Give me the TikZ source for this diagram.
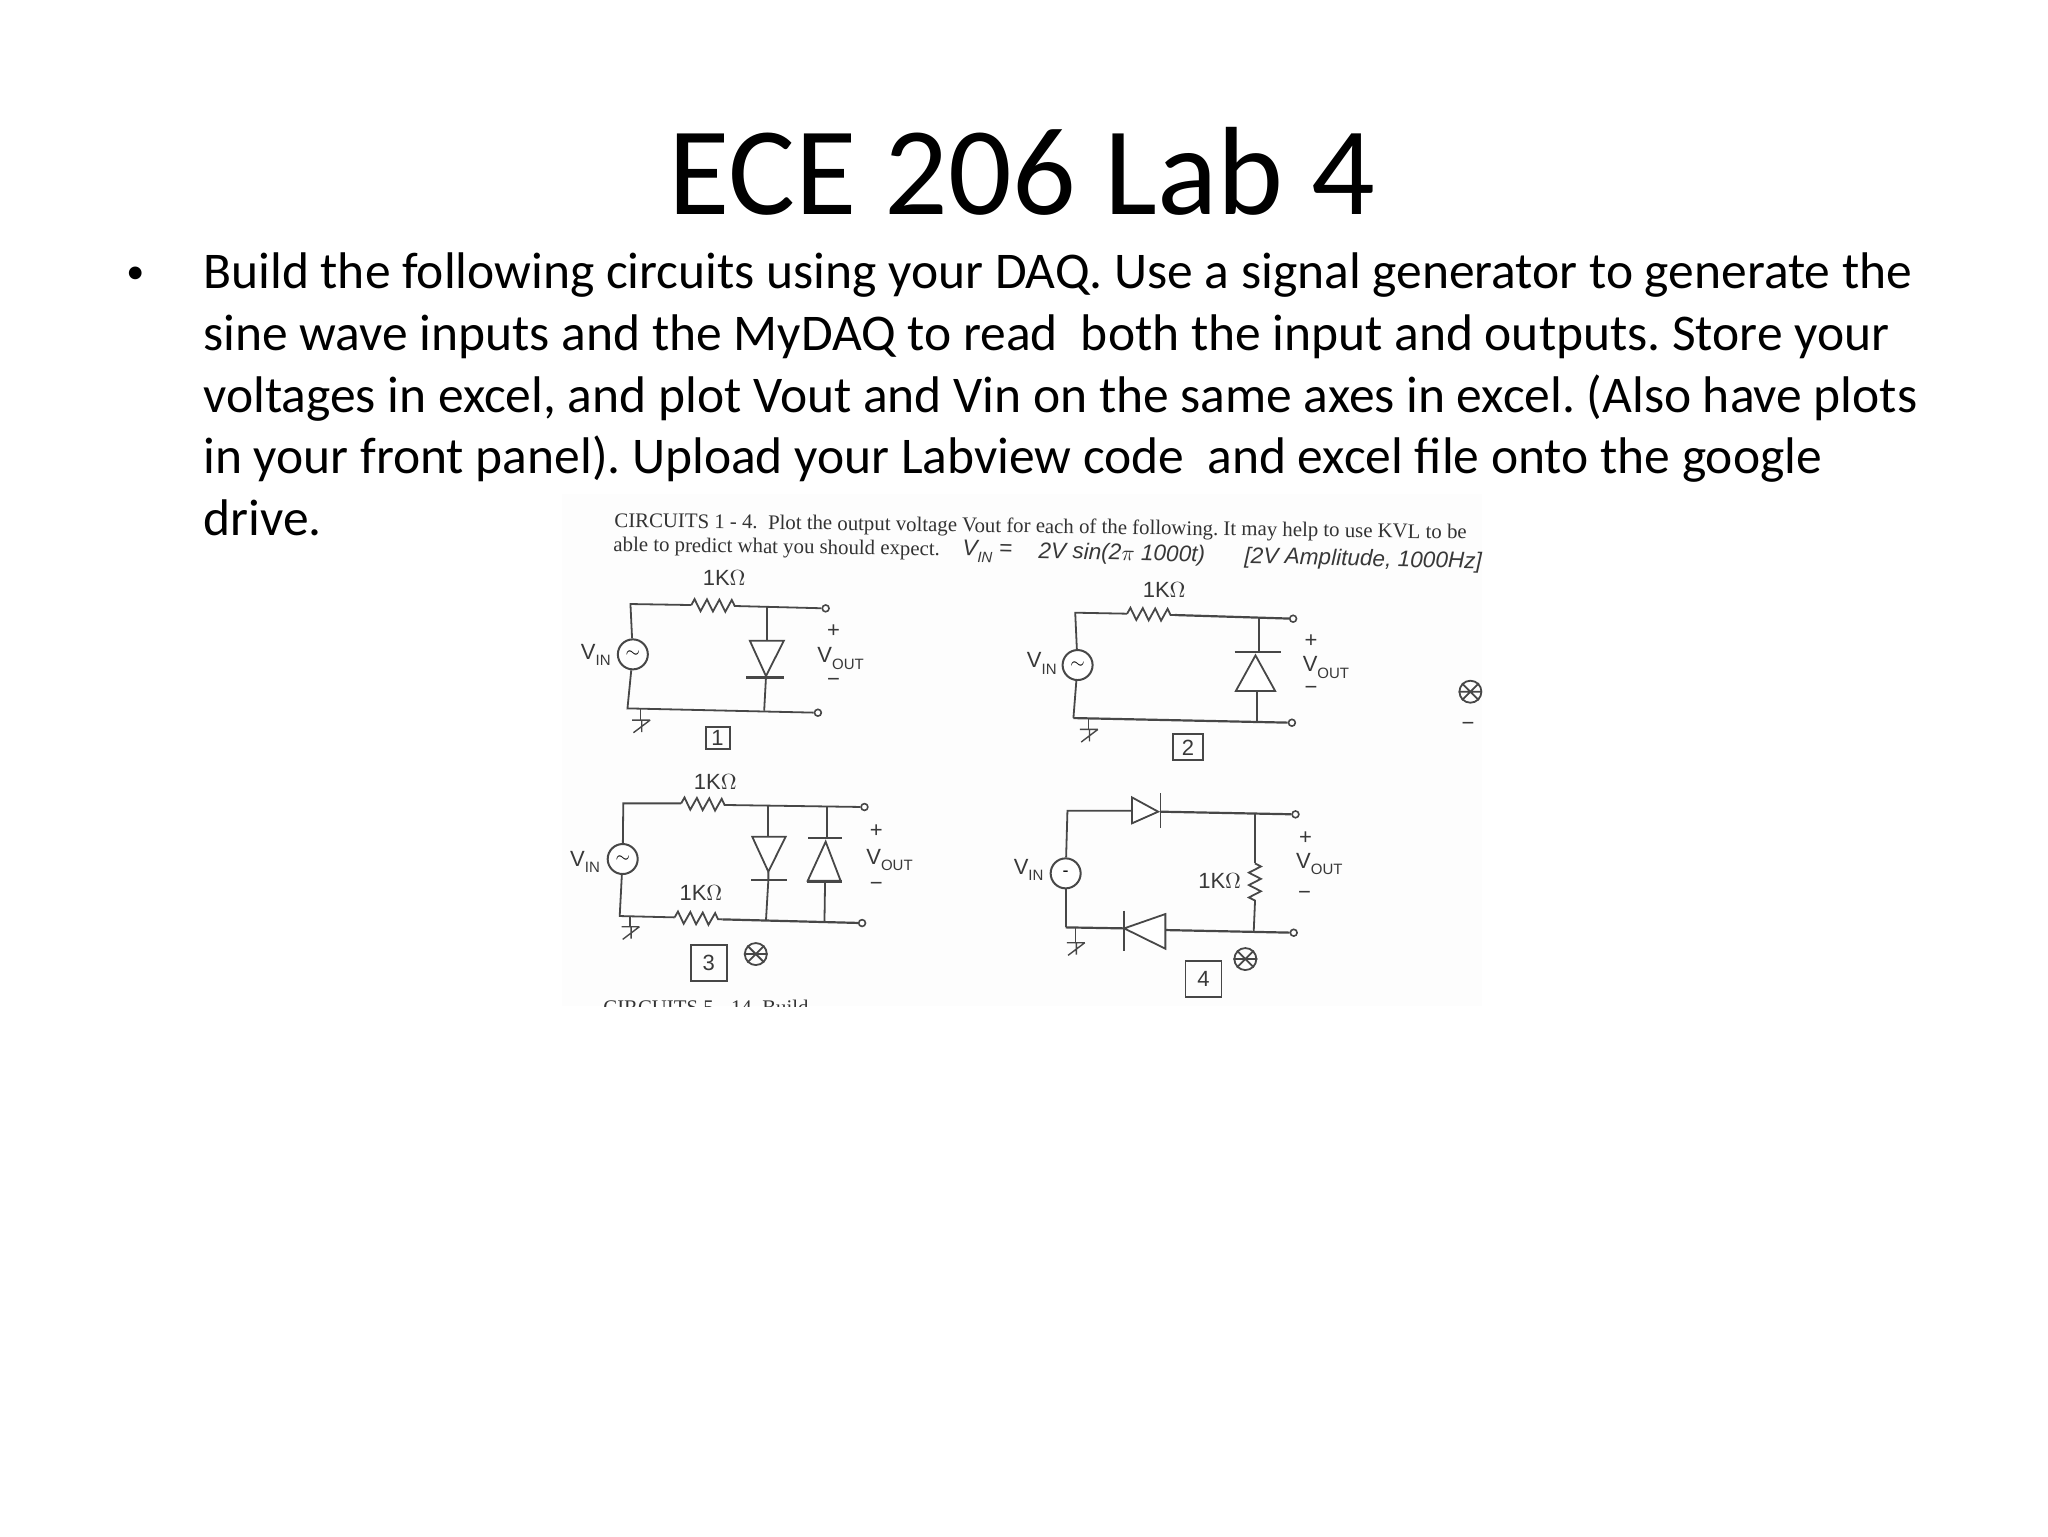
\documentclass[tikz,border=0pt]{standalone}
\usepackage{fontspec}
\setmainfont{Carlito}
\newfontfamily\typedfont{Liberation Serif}
\newfontfamily\handfont{Liberation Sans}
\usetikzlibrary{decorations.pathmorphing}
\newcommand{\vsub}[1]{V\raisebox{-.3em}{\fontsize{7.5}{8}\selectfont #1}}
\tikzset{
  wire/.style={line width=.9pt,draw=black!72},
  res/.style={wire,decorate,decoration={zigzag,amplitude=3pt,segment length=6.2pt}},
  bar/.style={line width=1.2pt,draw=black!72},
  src/.style={circle,draw=black!72,line width=1pt,fill=white,minimum size=15pt,inner sep=0pt,font=\handfont\fontsize{9}{9}\selectfont},
  term/.style={circle,draw=black!72,line width=.8pt,fill=white,minimum size=3.4pt,inner sep=0pt},
  hand/.style={text=black!78,inner sep=0pt,font=\handfont\fontsize{11}{12}\selectfont},
  note/.style={hand,anchor=base west,rotate=-1.4,font=\handfont\itshape\fontsize{11.3}{12}\selectfont},
  numbox/.style={draw=black!72,line width=.9pt,hand,inner sep=0pt},
  typed/.style={text=black!80,anchor=base west,inner sep=0pt,rotate=-.8,font=\typedfont\fontsize{10.4}{12}\selectfont},
  star/.style={circle,draw=black!72,line width=.9pt,minimum size=11pt,inner sep=0pt},
  gnd/.pic={\draw[wire,line width=.7pt] (-14,0) -- (16,0) (16,0) -- (-12,38) (2,3) -- (2,36);}
}
\begin{document}
\frenchspacing
\begin{tikzpicture}[x=.5pt,y=-.5pt]
    \useasboundingbox (0,0) rectangle (2048,1536);
    % Titel und Text
    \node[inner sep=0pt,font=\fontsize{62.8}{70}\selectfont] (title) at (1022,171) {ECE 206 Lab 4};
    \node[anchor=base west,inner sep=0pt,font=\fontsize{18}{22}\selectfont] (bullet) at (126,283) {•};
    \node[anchor=north west,inner sep=0pt,align=left,font=\fontsize{25.75}{30.85}\selectfont] (body) at (203,252.5)
      {Build the following circuits using your DAQ. Use a signal generator to generate the\\
       sine wave inputs and the MyDAQ to read\ \ both the input and outputs. Store your\\
       voltages in excel, and plot Vout and Vin on the same axes in excel. (Also have plots\\
       in your front panel). Upload your Labview code\ \ and excel file onto the google\\
       drive.};

    % Scan
    \fill[black!.7] (562,494) rectangle (1482,1006);
    \begin{scope}
    \clip (562,494) rectangle (1482,1006);
    \node[typed] (line1) at (614,527) {CIRCUITS 1 - 4.\ \ Plot the output voltage Vout for each of the following. It may help to use KVL to be};
    \node[typed] (line2) at (613,551) {able to predict what you should expect.};
    \node[note] (line3a) at (962,555) {\vsub{IN} =};
    \node[note] (line3b) at (1038,558) {2V sin(2$\pi$ 1000t)};
    \node[note] (line3c) at (1244,563) {[2V Amplitude, 1000Hz]};
    \node[typed,rotate=.8] (line4) at (603,1014) {CIRCUITS 5 - 14. Build};

    % Schaltung 1
    \begin{scope}[shift={(560,490)},x=.2985pt,y=-.1667pt]
    \coordinate (a1) at (118,342);
    \coordinate (r1a) at (220,345);
    \coordinate (r1b) at (295,348);
    \coordinate (j1) at (347,350);
    \coordinate (k1) at (342,662);
    \coordinate (b1) at (113,655);
    \coordinate (g1) at (135,657);
    \node[term] (t1) at (445,355) {};
    \node[term] (u1) at (432,668) {};
    \node[src] (s1) at (122,493) {$\sim$};
    \draw[wire] (s1) -- (a1) -- (r1a);
    \draw[res] (r1a) -- (r1b);
    \draw[wire] (r1b) -- (t1);
    \draw[wire] (s1) -- (b1) -- (u1);
    \draw[wire] (j1) -- (347,452);
    \draw[wire,fill=white] (318,452) -- (375,452) -- (345,558) -- cycle;
    \draw[bar] (312,562) -- (376,562);
    \draw[wire] (345,562) -- (k1);
    \draw[wire,line width=.7pt] (g1) -- (135,690);
    \pic at (135,690) {gnd};
    \node[hand] (l1) at (275,265) {1K$\Omega$};
    \node[hand] (v1) at (60,495) {\vsub{IN}};
    \node[hand] (p1) at (458,423) {+};
    \node[hand] (o1) at (470,505) {\vsub{OUT}};
    \node[hand] (m1) at (458,578) {\textminus};
    \node[numbox,minimum width=12pt,minimum height=11pt] (n1) at (264,743) {1};
    \end{scope}

    % Schaltung 2
    \begin{scope}[shift={(560,490)},x=.2985pt,y=-.1667pt]
    \coordinate (a2) at (863,368);
    \coordinate (r2a) at (950,371);
    \coordinate (r2b) at (1030,375);
    \coordinate (j2) at (1171,382);
    \coordinate (k2) at (1167,692);
    \coordinate (b2) at (860,684);
    \coordinate (g2) at (885,686);
    \node[term] (t2) at (1228,386) {};
    \node[term] (u2) at (1226,698) {};
    \node[src] (s2) at (867,525) {$\sim$};
    \draw[wire] (s2) -- (a2) -- (r2a);
    \draw[res] (r2a) -- (r2b);
    \draw[wire,line width=1.1pt] (r2b) -- (t2);
    \draw[wire] (s2) -- (b2);
    \draw[wire,line width=1.1pt] (b2) -- (u2);
    \draw[wire] (j2) -- (1171,486);
    \draw[bar] (1130,486) -- (1208,486);
    \draw[wire,fill=white] (1165,496) -- (1198,603) -- (1132,603) -- cycle;
    \draw[wire] (1167,603) -- (k2);
    \draw[wire,line width=.7pt] (g2) -- (885,718);
    \pic at (885,718) {gnd};
    \node[hand] (l2) at (1012,300) {1K$\Omega$};
    \node[hand] (v2) at (807,520) {\vsub{IN}};
    \node[hand] (p2) at (1258,452) {+};
    \node[hand] (o2) at (1283,532) {\vsub{OUT}};
    \node[hand] (m2) at (1258,602) {\textminus};
    \node[numbox,minimum width=15pt,minimum height=13pt] (n2) at (1052,772) {2};
    % Rest am rechten Rand
    \node[star] (x2) at (1525,605) {};
    \draw[wire] (x2.north west) -- (x2.south east) (x2.north east) -- (x2.south west) (x2.west) -- (x2.east);
    \node[hand] (d2) at (1521,710) {\textminus};
    \end{scope}

    % Schaltung 3
    \begin{scope}[shift={(560,760)},x=.2985pt,y=-.1667pt]
    \coordinate (a3) at (106,130);
    \coordinate (r3a) at (203,130);
    \coordinate (r3b) at (280,135);
    \coordinate (j3) at (348,137);
    \coordinate (i3) at (447,139);
    \coordinate (b3) at (100,468);
    \coordinate (q3a) at (192,472);
    \coordinate (q3b) at (272,478);
    \coordinate (k3) at (345,481);
    \coordinate (h3) at (443,484);
    \node[term] (t3) at (510,141) {};
    \node[term] (u3) at (506,489) {};
    \node[src] (s3) at (105,297) {$\sim$};
    \draw[wire] (s3) -- (a3) -- (r3a);
    \draw[res] (r3a) -- (r3b);
    \draw[wire] (r3b) -- (t3);
    \draw[wire] (s3) -- (b3) -- (q3a);
    \draw[res] (q3a) -- (q3b);
    \draw[wire,line width=1.1pt] (q3b) -- (u3);
    \draw[wire] (j3) -- (348,230);
    \draw[wire,fill=white] (322,230) -- (378,230) -- (349,335) -- cycle;
    \draw[bar] (320,360) -- (380,360);
    \draw[wire] (349,335) -- (349,360) -- (k3);
    \draw[wire] (i3) -- (447,234);
    \draw[bar] (416,234) -- (473,234);
    \draw[wire,fill=white] (445,245) -- (470,362) -- (415,362) -- cycle;
    \draw[bar] (413,364) -- (473,364);
    \draw[wire] (444,364) -- (h3);
    \draw[wire,line width=.7pt] (117,470) -- (117,500);
    \pic at (117,500) {gnd};
    \node[hand] (l3) at (260,65) {1K$\Omega$};
    \node[hand] (l3b) at (236,400) {1K$\Omega$};
    \node[hand] (v3) at (42,306) {\vsub{IN}};
    \node[hand] (p3) at (530,212) {+};
    \node[hand] (o3) at (552,300) {\vsub{OUT}};
    \node[hand] (m3) at (530,380) {\textminus};
    \node[numbox,minimum width=18pt,minimum height=18pt] (n3) at (249,608) {3};
    \node[star] (x3) at (328,582) {};
    \draw[wire] (x3.north west) -- (x3.south east) (x3.north east) -- (x3.south west) (x3.west) -- (x3.east);
    \end{scope}

    % Schaltung 4
    \begin{scope}[shift={(560,760)},x=.2985pt,y=-.1667pt]
    \coordinate (a4) at (850,152);
    \coordinate (d4) at (958,152);
    \coordinate (c4) at (1006,155);
    \coordinate (j4) at (1164,160);
    \coordinate (r4a) at (1164,310);
    \coordinate (r4b) at (1164,432);
    \coordinate (k4) at (1162,515);
    \coordinate (e4) at (1014,510);
    \coordinate (f4) at (945,505);
    \coordinate (b4) at (847,502);
    \node[term] (t4) at (1232,163) {};
    \node[term] (u4) at (1229,518) {};
    \node[src] (s4) at (847,340) {-};
    \draw[wire] (s4) -- (a4) -- (d4);
    \draw[wire,fill=white] (958,112) -- (1002,155) -- (958,190) -- cycle;
    \draw[bar,line width=.9pt] (1006,100) -- (1006,205);
    \draw[wire,line width=1.1pt] (c4) -- (t4);
    \draw[wire] (j4) -- (r4a);
    \draw[res] (r4a) -- (r4b);
    \draw[wire] (r4b) -- (k4);
    \draw[wire,line width=1.1pt] (u4) -- (e4);
    \draw[wire,fill=white] (1014,462) -- (1014,566) -- (945,505) -- cycle;
    \draw[bar,line width=.9pt] (945,452) -- (945,572);
    \draw[wire,line width=1.1pt] (f4) -- (b4);
    \draw[wire] (s4) -- (b4);
    \draw[wire,line width=.7pt] (863,505) -- (863,545);
    \pic at (863,548) {gnd};
    \node[hand] (l4) at (1105,362) {1K$\Omega$};
    \node[hand] (v4) at (785,330) {\vsub{IN}};
    \node[hand] (p4) at (1249,235) {+};
    \node[hand] (o4) at (1272,312) {\vsub{OUT}};
    \node[hand] (m4) at (1247,405) {\textminus};
    \node[numbox,minimum width=18pt,minimum height=18pt] (n4) at (1078,658) {4};
    \node[star] (x4) at (1148,597) {};
    \draw[wire] (x4.north west) -- (x4.south east) (x4.north east) -- (x4.south west) (x4.west) -- (x4.east);
    \end{scope}
    \end{scope}
\end{tikzpicture}
\end{document}
